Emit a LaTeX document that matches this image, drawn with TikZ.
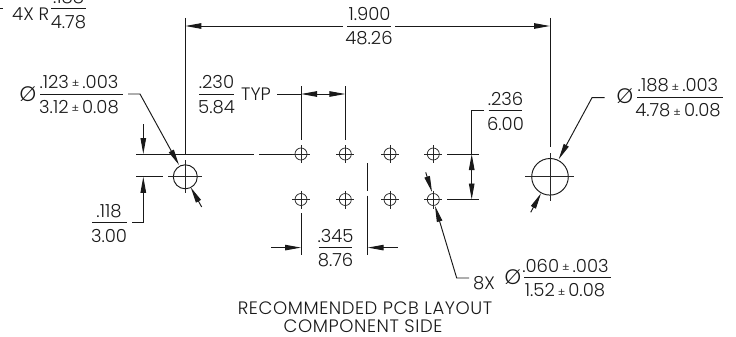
\documentclass[tikz,border=0pt]{standalone}
\usepackage{fontspec}
\setmainfont{Poppins Light}
\newfontfamily\titlefont[LetterSpace=3.2]{Poppins Light}
\usetikzlibrary{arrows.meta}
\tikzset{
  ln/.style={line width=0.95pt,draw=black!90},
  thin ln/.style={line width=0.75pt,draw=black!85},
  arw/.style={ln,-{Triangle[length=16pt,width=5.5pt]}},
  lbl/.style={inner sep=0pt,font=\fontsize{18}{18}\selectfont,text=black!90,anchor=center},
  dia/.style={lbl,font=\fontsize{21}{21}\selectfont},
  ttl/.style={lbl,font=\titlefont\fontsize{18}{18}\selectfont},
}
\newcommand{\PM}{{\fontsize{11.5}{11.5}\selectfont\raisebox{0.5pt}{±}}}
\begin{document}
\begin{tikzpicture}[x=1pt,y=-1pt]
\useasboundingbox (0,0) rectangle (736,337);
% hole centres
\foreach \n/\x/\y in {a/301/154,b/345.3/154,c/390/154,d/433.3/154,e/301/199.5,f/345.3/199.5,g/390/199.5,h/433.3/199.5}{
  \coordinate (\n) at (\x,\y);
  \draw[thin ln] (\n) circle (6);
  \draw[thin ln] (\x-9,\y) -- (\x+9,\y) (\x,\y-9) -- (\x,\y+9);
}
% large holes
\coordinate (L) at (185.3,176.8);
\coordinate (R) at (550,176.8);
\draw[ln] (L) circle (12);
\draw[ln] (R) circle (18.3);
\draw[thin ln] (168,176.8) -- (202,176.8) (185.3,160) -- (185.3,193);
\draw[thin ln] (525,176.8) -- (574,176.8) (550,153) -- (550,201);
% 1.900 dimension
\draw[ln] (185.3,18) -- (185.3,154);
\draw[ln] (550,18) -- (550,147);
\draw[arw] (343,26) -- (185.3,26);
\draw[arw] (395,26) -- (550,26);
\draw[ln] (347,26) -- (391,26);
\node[lbl] (t1) at (369.5,14) {1.900};
\node[lbl] (t2) at (369,38.5) {48.26};
% 4X R
\draw[ln] (0,8.7) -- (2.5,8.7);
\node[lbl] (r0) at (23,14) {4X};
\node[lbl] (r1) at (44,14) {R};
\draw[ln] (51,8.7) -- (86,8.7);
\node[lbl] (r2) at (68.5,-3) {.188};
\node[lbl] (r3) at (68.5,22.5) {4.78};
% left hole callout
\node[dia] (p1) at (28,94) {Ø};
\draw[ln] (40,94) -- (122.7,94);
\node[lbl] (p2) at (79,81.5) {.123\,\PM\,.003};
\node[lbl] (p3) at (79,107) {3.12\,\PM\,0.08};
\draw[arw] (128,94) -- (140,94) -- (179,165);
\draw[arw] (201.7,207) -- (190.7,187.3);
% .230 TYP
\draw[ln] (199,94) -- (234,94);
\node[lbl] (q1) at (216.5,81.5) {.230};
\node[lbl] (q2) at (216.5,107) {5.84};
\node[lbl] (q3) at (256,94) {TYP};
\draw[ln] (301,86) -- (301,140);
\draw[ln] (345.3,86) -- (345.3,140);
\draw[ln] (277,94) -- (301,94);
\draw[arw] (323,94) -- (301,94);
\draw[arw] (323,94) -- (345.3,94);
% horizontal extension
\draw[ln] (136,154) -- (254,154) (259,154) -- (292,154);
% .118
\draw[arw] (143.3,124) -- (143.3,154);
\draw[ln] (136,176.8) -- (163,176.8);
\draw[arw] (132,222.5) -- (143.3,222.5) -- (143.3,176.8);
\draw[ln] (92,222.5) -- (127,222.5);
\node[lbl] (s1) at (109,211) {.118};
\node[lbl] (s2) at (109,235.5) {3.00};
% .236
\draw[ln] (488.7,110.7) -- (522,110.7);
\node[lbl] (u1) at (505.5,99) {.236};
\node[lbl] (u2) at (505.5,123.5) {6.00};
\draw[ln] (484,110.7) -- (471.7,110.7) -- (471.7,154);
\draw[ln] (447,154) -- (479,154) (447,199.5) -- (479,199.5);
\draw[arw] (471.7,177) -- (471.7,154);
\draw[arw] (471.7,177) -- (471.7,199.5);
% .345
\draw[ln] (301,213) -- (301,255);
\draw[ln] (367.7,163) -- (367.7,191) (367.7,195.7) -- (367.7,255);
\draw[arw] (271,247.6) -- (301,247.6);
\draw[arw] (397.7,247.6) -- (367.7,247.6);
\draw[ln] (319,247.6) -- (352,247.6);
\node[lbl] (v1) at (335.5,236) {.345};
\node[lbl] (v2) at (335.5,260.5) {8.76};
% 8X callout
\draw[arw] (425.7,172.3) -- (432,192);
\draw[arw] (469,278) -- (456.7,278) -- (435,206);
\node[lbl] (w0) at (484,282.7) {8X};
\node[dia] (w1) at (513,277) {Ø};
\draw[ln] (524,277.7) -- (610.7,277.7);
\node[lbl] (w2) at (565.5,265.5) {.060\,\PM\,.003};
\node[lbl] (w3) at (565,290.5) {1.52\,\PM\,0.08};
% right callout
\draw[arw] (604.7,97.7) -- (592,97.7) -- (558.7,159.3);
\draw[arw] (530.7,212.3) -- (541,193.3);
\node[dia] (x0) at (625,96) {Ø};
\draw[ln] (637,97.7) -- (723,97.7);
\node[lbl] (x1) at (678,85.5) {.188\,\PM\,.003};
\node[lbl] (x2) at (678,110.5) {4.78\,\PM\,0.08};
% title
\node[ttl] (y1) at (365,307.7) {RECOMMENDED PCB LAYOUT};
\node[ttl] (y2) at (363,326) {COMPONENT SIDE};
\end{tikzpicture}
\end{document}
